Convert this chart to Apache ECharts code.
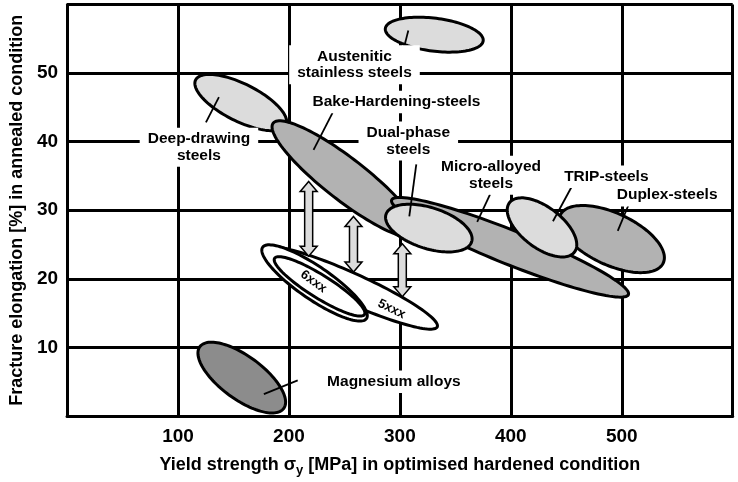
<!DOCTYPE html>
<html><head><meta charset="utf-8">
<script src="https://cdn.jsdelivr.net/npm/echarts@6/dist/echarts.min.js"></script>
<style>html,body{margin:0;padding:0;background:#fff}#c{width:738px;height:482px}</style>
</head><body><div id="c"></div>
<script>
// ---- data (yield strength in MPa, fracture elongation in %) ----
const strengthTicks = [100, 200, 300, 400, 500];
const elongationTicks = [10, 20, 30, 40, 50];

// property regions (ellipses): centre, end of the major axis, width/length ratio
const regionNames   = ['Magnesium alloys', '5xxx', '6xxx outer', '6xxx', 'Deep-drawing steels', 'Bake-Hardening-steels', 'Micro-alloyed steels', 'Dual-phase steels', 'Duplex-steels', 'TRIP-steels', 'Austenitic stainless steels'];
const centreStrength   = [157.5, 255.5, 223.1, 227.6, 156.6, 251.0, 399.3, 326.1, 491.0, 428.1, 331.0];
const centreElongation = [5.6, 18.7, 19.4, 18.9, 45.7, 34.5, 24.6, 27.4, 25.8, 27.5, 55.6];
const tipStrength      = [195.3, 333.7, 269.9, 268.1, 197.3, 316.2, 506.0, 364.7, 537.4, 457.4, 375.1];
const tipElongation    = [1.1, 13.0, 14.2, 14.8, 42.4, 26.3, 17.7, 25.4, 22.3, 23.9, 54.7];
const widthRatio       = [0.413, 0.157, 0.26, 0.215, 0.37, 0.228, 0.133, 0.456, 0.456, 0.5, 0.334];

// annotation labels
const labelTexts = ['Austenitic\nstainless steels', 'Bake-Hardening-steels', 'Dual-phase\nsteels', 'Micro-alloyed\nsteels', 'TRIP-steels', 'Duplex-steels', 'Deep-drawing\nsteels', 'Magnesium alloys'];
const labelStrength   = [259.1, 296.9, 307.6, 382.2, 486.1, 540.9, 118.9, 294.6];
const labelElongation = [51.2, 45.8, 40.1, 35.1, 34.9, 32.2, 39.2, 5.0];
const leaderFromStrength   = [300.4, 239.3, 314.8, 381.3, 455.1, 507.2, 136.9, 207.9];
const leaderFromElongation = [51.6, 44.2, 36.7, 32.3, 33.5, 31.2, 46.5, 5.2];
const leaderToStrength     = [307.6, 222.2, 308.5, 369.7, 438.0, 496.4, 125.2, 177.4];
const leaderToElongation   = [56.2, 38.8, 29.1, 28.3, 28.4, 27.0, 42.8, 3.2];

// aluminium alloy tags inside the white regions
const alloyTags = ['6xxx', '5xxx'];
const alloyTagStrength   = [222.2, 292.6];
const alloyTagElongation = [19.6, 15.6];

// double arrows: hardening gain
const arrowStrength = [217.8, 258.2, 302.2];
const arrowTop      = [34.2, 29.1, 25.1];
const arrowBottom   = [23.3, 21.0, 17.4];

// ---- styles ----
const FONT = "'Liberation Sans', Arial, Helvetica, sans-serif";
const fillByRegion = {
  'Magnesium alloys': '#8c8c8c', '5xxx': '#ffffff', '6xxx outer': '#ffffff', '6xxx': '#ffffff',
  'Deep-drawing steels': '#dcdcdc', 'Bake-Hardening-steels': '#b2b2b2', 'Micro-alloyed steels': '#b2b2b2',
  'Dual-phase steels': '#dcdcdc', 'Duplex-steels': '#b2b2b2', 'TRIP-steels': '#dcdcdc', 'Austenitic stainless steels': '#dcdcdc'
};
const tagAngle = {'6xxx': 36, '5xxx': 26};

const ellipseData = regionNames.map((n, i) => ({name: n, value: [centreStrength[i], centreElongation[i], tipStrength[i], tipElongation[i], widthRatio[i]]}));
const labelData = labelTexts.map((t, i) => ({name: t, value: [labelStrength[i], labelElongation[i]]}));
const leaderData = labelTexts.map((t, i) => [leaderFromStrength[i], leaderFromElongation[i], leaderToStrength[i], leaderToElongation[i]]);
const tagData = alloyTags.map((t, i) => ({name: t, value: [alloyTagStrength[i], alloyTagElongation[i]]}));
const arrowData = arrowStrength.map((x, i) => [x, arrowTop[i], arrowBottom[i]]);

function renderEllipse(params, api) {
  const c = api.coord([api.value(0), api.value(1)]);
  const t = api.coord([api.value(2), api.value(3)]);
  const dx = t[0] - c[0], dy = t[1] - c[1];
  const a = Math.hypot(dx, dy), ang = Math.atan2(dy, dx), b = a * api.value(4);
  const pts = [];
  const N = 120;
  for (let k = 0; k < N; k++) {
    const f = 2 * Math.PI * k / N;
    pts.push([c[0] + a * Math.cos(f) * Math.cos(ang) - b * Math.sin(f) * Math.sin(ang),
              c[1] + a * Math.cos(f) * Math.sin(ang) + b * Math.sin(f) * Math.cos(ang)]);
  }
  const name = regionNames[params.dataIndex];
  return {type: 'polygon', shape: {points: pts}, style: {fill: fillByRegion[name], stroke: '#000', lineWidth: 3}};
}

function renderArrow(params, api) {
  const top = api.coord([api.value(0), api.value(1)]);
  const bot = api.coord([api.value(0), api.value(2)]);
  const x = top[0], hw = 8.5, sw = 4, hl = 10;
  const pts = [[x, top[1]], [x + hw, top[1] + hl], [x + sw, top[1] + hl], [x + sw, bot[1] - hl], [x + hw, bot[1] - hl],
               [x, bot[1]], [x - hw, bot[1] - hl], [x - sw, bot[1] - hl], [x - sw, top[1] + hl], [x - hw, top[1] + hl]];
  return {type: 'polygon', shape: {points: pts}, style: {fill: '#dcdcdc', stroke: '#000', lineWidth: 1.5}};
}

function renderLeader(params, api) {
  const p = api.coord([api.value(0), api.value(1)]);
  const q = api.coord([api.value(2), api.value(3)]);
  return {type: 'line', shape: {x1: p[0], y1: p[1], x2: q[0], y2: q[1]}, style: {stroke: '#000', lineWidth: 1.8}};
}

function renderLabel(params, api) {
  const p = api.coord([api.value(0), api.value(1)]);
  return {type: 'text', x: p[0], y: p[1], style: {
    text: labelTexts[params.dataIndex], fill: '#000', font: 'bold 15.5px ' + FONT, lineHeight: 16.5,
    align: 'center', verticalAlign: 'middle', backgroundColor: '#fff', padding: [3, 8]}};
}

function renderTag(params, api) {
  const p = api.coord([api.value(0), api.value(1)]);
  const name = alloyTags[params.dataIndex];
  return {type: 'text', x: p[0], y: p[1], rotation: -tagAngle[name] * Math.PI / 180, style: {
    text: name, fill: '#000', font: 'bold 13px ' + FONT, align: 'center', verticalAlign: 'middle'}};
}

const chart = echarts.init(document.getElementById('c'), null, {renderer: 'canvas'});
chart.setOption({
  animation: false,
  backgroundColor: '#fff',
  grid: {left: 65.7, right: 5.3, top: 4.5, bottom: 65.3, containLabel: false},
  xAxis: {
    type: 'value', min: 0, max: 600, interval: 100,
    axisLine: {show: true, lineStyle: {color: '#000', width: 3}},
    axisTick: {show: false},
    splitLine: {show: true, lineStyle: {color: '#000', width: 3}},
    axisLabel: {margin: 11, color: '#000', fontSize: 19, fontWeight: 'bold', fontFamily: FONT,
      formatter: v => strengthTicks.includes(v) ? String(v) : ''},
    name: '{t|Yield strength σ}{s|y}{t| [MPa] in optimised hardened condition}',
    nameLocation: 'middle', nameGap: 37,
    nameTextStyle: {rich: {
      t: {fontSize: 18, fontWeight: 'bold', fontFamily: FONT, color: '#000', lineHeight: 24, verticalAlign: 'middle'},
      s: {fontSize: 13, fontWeight: 'bold', fontFamily: FONT, color: '#000', lineHeight: 13, verticalAlign: 'bottom'}
    }}
  },
  yAxis: {
    type: 'value', min: 0, max: 60, interval: 10,
    axisLine: {show: true, lineStyle: {color: '#000', width: 3}},
    axisTick: {show: false},
    splitLine: {show: true, lineStyle: {color: '#000', width: 3}},
    axisLabel: {margin: 9, color: '#000', fontSize: 19, fontWeight: 'bold', fontFamily: FONT,
      formatter: v => elongationTicks.includes(v) ? String(v) : ''},
    name: 'Fracture elongation [%] in annealed condition',
    nameLocation: 'middle', nameGap: 41,
    nameTextStyle: {fontSize: 18, fontWeight: 'bold', fontFamily: FONT, color: '#000'}
  },
  series: [
    {type: 'custom', name: 'regions', coordinateSystem: 'cartesian2d', renderItem: renderEllipse, data: ellipseData, z: 3,
      encode: {x: [0, 2], y: [1, 3]}, silent: true},
    {type: 'custom', name: 'arrows', coordinateSystem: 'cartesian2d', renderItem: renderArrow, data: arrowData, z: 4,
      encode: {x: 0, y: [1, 2]}, silent: true},
    {type: 'custom', name: 'tags', coordinateSystem: 'cartesian2d', renderItem: renderTag, data: tagData, z: 4,
      encode: {x: 0, y: 1}, silent: true},
    {type: 'custom', name: 'leaders', coordinateSystem: 'cartesian2d', renderItem: renderLeader, data: leaderData, z: 5,
      encode: {x: [0, 2], y: [1, 3]}, silent: true},
    {type: 'custom', name: 'labels', coordinateSystem: 'cartesian2d', renderItem: renderLabel, data: labelData, z: 6,
      encode: {x: 0, y: 1}, silent: true}
  ]
});
</script></body></html>
